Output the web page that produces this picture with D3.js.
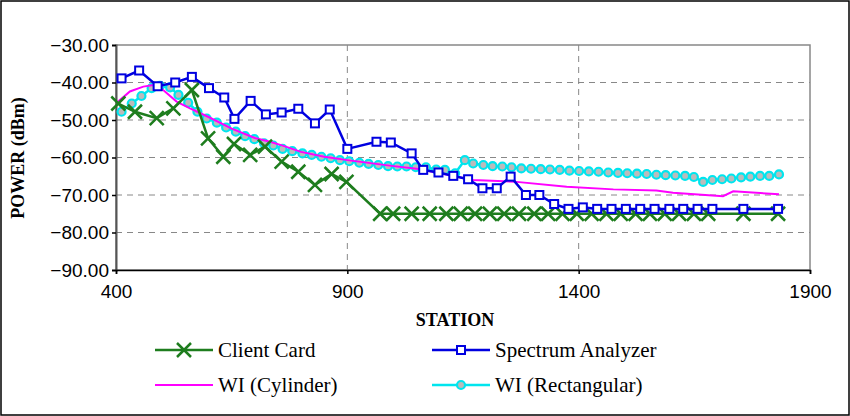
<!DOCTYPE html>
<html><head><meta charset="utf-8">
<script src="https://cdn.jsdelivr.net/npm/d3@7"></script>
<style>body{margin:0;background:#fff}</style></head>
<body><svg id="c" width="850" height="416"></svg>
<script>
// station, power pairs
var clientCard = [[405,-45.6],[441,-47.8],[488,-49.5],[524,-46.9],[564,-42],[599,-54.9],[632,-59.8],[655,-56.4],[690,-59.3],[722,-57.1],[758,-61.1],[794,-63.8],[830,-67.3],[866,-64.4],[898,-66.5],[971,-75],[999,-75],[1039,-75],[1078,-75],[1114,-75],[1145,-75],[1176,-75],[1208,-75],[1239,-75],[1271,-75],[1304,-75],[1334,-75],[1365,-75],[1396,-75],[1428,-75],[1460,-75],[1491,-75],[1523,-75],[1554,-75],[1586,-75],[1617,-75],[1649,-75],[1680,-75],[1756,-75],[1831,-75]];
var spectrum = [[412,-38.9],[450,-36.8],[490,-41],[528,-40],[564,-38.5],[601,-41.5],[634,-44],[656,-49.7],[691,-44.9],[724,-48.5],[758,-48],[794,-47],[830,-50.9],[862,-47.2],[900,-57.7],[963,-55.8],[994,-56],[1039,-58.9],[1064,-63.3],[1097,-64],[1129,-64.9],[1161,-65.8],[1192,-68.2],[1223,-68.2],[1253,-65.1],[1286,-70],[1315,-70],[1347,-72.4],[1378,-73.7],[1409,-73.3],[1440,-73.7],[1471,-73.7],[1502,-73.7],[1533,-73.7],[1564,-73.7],[1596,-73.7],[1626,-73.7],[1657,-73.7],[1689,-73.7],[1756,-73.7],[1831,-73.7]];
var wiCyl = [[401,-45.5],[430,-42.4],[459,-41.1],[481,-40.7],[502,-42],[531,-45.1],[560,-46.9],[600,-49.2],[650,-52.3],[700,-54.8],[733,-55.8],[762,-56.9],[800,-58.5],[850,-59.8],[900,-60.7],[950,-61.5],[1000,-62.3],[1050,-63],[1100,-64.2],[1172,-66],[1266,-66.5],[1374,-67.8],[1475,-68.5],[1568,-68.8],[1604,-69.4],[1712,-70.3],[1734,-69],[1833,-69.8]];
var wiRect = [[412,-47.8],[434,-45.6],[455,-43.6],[477,-41.5],[495,-40.9],[517,-41.3],[535,-43.3],[556,-45.4],[576,-47.8],[596,-49.6],[618,-50.7],[638,-52],[659,-53.1],[679,-54.3],[699,-55.1],[720,-56.2],[740,-56.8],[760,-57.7],[781,-58.3],[803,-58.9],[823,-59.3],[844,-59.8],[864,-60.2],[884,-60.7],[904,-61],[926,-61.4],[946,-61.7],[967,-62],[988,-62.3],[1008,-62.4],[1028,-62.4],[1048,-62.6],[1070,-62.6],[1092,-63.2],[1111,-63.3],[1133,-64.2],[1154,-60.7],[1172,-61.6],[1194,-62],[1214,-62.3],[1235,-62.4],[1255,-62.6],[1276,-62.9],[1297,-63],[1318,-63.1],[1338,-63.2],[1359,-63.3],[1380,-63.5],[1401,-63.6],[1422,-63.7],[1443,-63.8],[1464,-64],[1485,-64.1],[1505,-64.2],[1526,-64.3],[1547,-64.4],[1568,-64.6],[1588,-64.7],[1609,-64.8],[1630,-64.9],[1649,-65.2],[1669,-66.5],[1689,-66],[1710,-65.8],[1730,-65.6],[1751,-65.3],[1771,-65.1],[1792,-64.9],[1812,-64.9],[1833,-64.5]];
var xTicks = [400,900,1400,1900];
var yTicks = [-30,-40,-50,-60,-70,-80,-90];

var svg = d3.select("#c");
svg.append("rect").attr("x",1).attr("y",1).attr("width",848).attr("height",414).attr("fill","#fff").attr("stroke","#000").attr("stroke-width",1.5);

var x = d3.scaleLinear().domain([400,1900]).range([116,810]);
var y = d3.scaleLinear().domain([-90,-30]).range([270,45]);

//plot frame + gridlines
svg.append("rect").attr("x",116).attr("y",45).attr("width",694).attr("height",225).attr("fill","none").attr("stroke","#888").attr("stroke-width",1.5);
yTicks.slice(1,6).forEach(function(t){
  svg.append("line").attr("x1",116).attr("x2",810).attr("y1",y(t)).attr("y2",y(t)).attr("stroke","#888").attr("stroke-dasharray","6,5");
});
[900,1400].forEach(function(t){
  svg.append("line").attr("x1",x(t)).attr("x2",x(t)).attr("y1",45).attr("y2",270).attr("stroke","#888").attr("stroke-dasharray","6,5");
});

var yAxis = svg.append("g").attr("transform","translate(116,0)")
  .call(d3.axisLeft(y).tickValues(yTicks).tickFormat(d3.format(".2f")).tickSize(4));
var xAxis = svg.append("g").attr("transform","translate(0,270)")
  .call(d3.axisBottom(x).tickValues(xTicks).tickFormat(d3.format("d")).tickSize(4));
[yAxis,xAxis].forEach(function(a){
  a.selectAll("path,line").attr("stroke","#000").attr("stroke-width",1.5);
  a.selectAll("text").attr("font-family","Liberation Sans, Arial").attr("font-size",19).attr("fill","#000");
});
yAxis.select(".domain").attr("stroke","#555").attr("stroke-width",2);
xAxis.selectAll("text").attr("dy","1.1em");

svg.append("text").attr("x",455).attr("y",326).attr("text-anchor","middle")
  .attr("font-family","Liberation Serif").attr("font-weight","bold").attr("font-size",18).text("STATION");
svg.append("text").attr("transform","translate(24,158) rotate(-90)").attr("text-anchor","middle")
  .attr("font-family","Liberation Serif").attr("font-weight","bold").attr("font-size",18).text("POWER (dBm)");

var line = d3.line().x(d => x(d[0])).y(d => y(d[1]));
var series = [
  {name:"Client Card", data:clientCard, color:"#1e7d1e", mark:"x"},
  {name:"Spectrum Analyzer", data:spectrum, color:"#0000e0", mark:"sq"},
  {name:"WI (Cylinder)", data:wiCyl, color:"#ff00ff", mark:"none"},
  {name:"WI (Rectangular)", data:wiRect, color:"#00e5ee", mark:"o"}
];
function drawMark(g, m, cx, cy, col){
  if(m=="x"){
    g.append("path").attr("d","M"+(cx-7)+","+(cy-7)+"L"+(cx+7)+","+(cy+7)+"M"+(cx-7)+","+(cy+7)+"L"+(cx+7)+","+(cy-7))
      .attr("stroke",col).attr("stroke-width",2.5).attr("fill","none");
  } else if(m=="sq"){
    g.append("rect").attr("x",cx-4).attr("y",cy-4).attr("width",8).attr("height",8)
      .attr("fill","#fff").attr("stroke",col).attr("stroke-width",2);
  } else if(m=="o"){
    g.append("circle").attr("cx",cx).attr("cy",cy).attr("r",4).attr("fill","#bbb").attr("stroke",col).attr("stroke-width",2.2);
  }
}
// draw order: rect, cyl, client, spectrum
[3,2,0,1].forEach(function(i){
  var s = series[i];
  var g = svg.append("g");
  g.append("path").datum(s.data).attr("d",line).attr("fill","none").attr("stroke",s.color).attr("stroke-width",s.mark=="none"?2:2.5);
  s.data.forEach(function(d){ drawMark(g, s.mark, x(d[0]), y(d[1]), s.color); });
});

// legend
var legPos = [[155,350],[432,350],[155,385],[432,385]];
series.forEach(function(s,i){
  var lx = legPos[i][0], ly = legPos[i][1];
  var g = svg.append("g");
  g.append("line").attr("x1",lx).attr("x2",lx+58).attr("y1",ly).attr("y2",ly).attr("stroke",s.color).attr("stroke-width",s.mark=="none"?2:2.5);
  drawMark(g, s.mark, lx+29, ly, s.color);
  g.append("text").attr("x",lx+63).attr("y",ly+7).attr("font-family","Liberation Serif").attr("font-size",21).text(s.name);
});
</script></body></html>
